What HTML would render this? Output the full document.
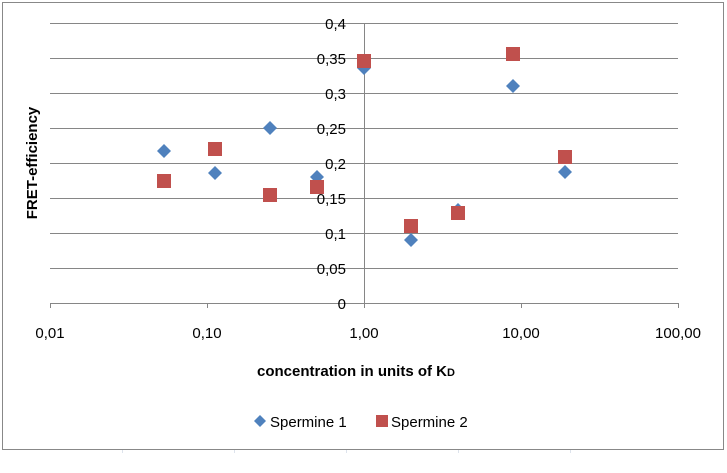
<!DOCTYPE html>
<html><head><style>body{margin:0;background:#fff}</style></head><body>
<svg width="727" height="468" xmlns="http://www.w3.org/2000/svg" font-family="Liberation Sans, sans-serif">
<rect width="727" height="468" fill="#fff"/>
<g stroke="#dde3ec" stroke-width="1">
<line x1="122.5" y1="450" x2="122.5" y2="453"/><line x1="234.5" y1="450" x2="234.5" y2="453"/><line x1="346.5" y1="450" x2="346.5" y2="453"/><line x1="458.5" y1="450" x2="458.5" y2="453"/><line x1="570.5" y1="450" x2="570.5" y2="453"/>
</g>
<rect x="2.5" y="2.5" width="721" height="447" fill="#fff" stroke="#888"/>
<g stroke="#868686" stroke-width="1">
<line x1="50" y1="23.5" x2="678" y2="23.5"/><line x1="50" y1="58.5" x2="678" y2="58.5"/><line x1="50" y1="93.5" x2="678" y2="93.5"/><line x1="50" y1="128.5" x2="678" y2="128.5"/><line x1="50" y1="163.5" x2="678" y2="163.5"/><line x1="50" y1="198.5" x2="678" y2="198.5"/><line x1="50" y1="233.5" x2="678" y2="233.5"/><line x1="50" y1="268.5" x2="678" y2="268.5"/><line x1="50" y1="303.5" x2="678" y2="303.5"/>
<line x1="364.5" y1="23" x2="364.5" y2="308"/>
<line x1="50.5" y1="303" x2="50.5" y2="308"/><line x1="207.5" y1="303" x2="207.5" y2="308"/><line x1="521.5" y1="303" x2="521.5" y2="308"/><line x1="678.5" y1="303" x2="678.5" y2="308"/>
</g>
<g font-size="15" fill="#000" text-anchor="end">
<text x="346" y="29">0,4</text><text x="346" y="64">0,35</text><text x="346" y="99">0,3</text><text x="346" y="134">0,25</text><text x="346" y="169">0,2</text><text x="346" y="204">0,15</text><text x="346" y="239">0,1</text><text x="346" y="274">0,05</text><text x="346" y="309">0</text>
</g>
<g font-size="15" fill="#000" text-anchor="middle">
<text x="50" y="338">0,01</text><text x="207" y="338">0,10</text><text x="364" y="338">1,00</text><text x="521" y="338">10,00</text><text x="678" y="338">100,00</text>
</g>
<text x="0" y="0" transform="translate(37,163) rotate(-90)" font-size="15" font-weight="bold" text-anchor="middle">FRET-efficiency</text>
<text x="257" y="376" font-size="15" font-weight="bold">concentration in units of K<tspan font-size="11">D</tspan></text>
<g fill="#4f81bd">
<path d="M164 144l7 7-7 7-7-7z"/><path d="M215 166l7 7-7 7-7-7z"/><path d="M270 121l7 7-7 7-7-7z"/><path d="M317 170l7 7-7 7-7-7z"/><path d="M364 61l7 7-7 7-7-7z"/><path d="M411 233l7 7-7 7-7-7z"/><path d="M458 203l7 7-7 7-7-7z"/><path d="M513 79l7 7-7 7-7-7z"/><path d="M565 165l7 7-7 7-7-7z"/>
<path d="M260 415l6 6-6 6-6-6z"/>
</g>
<g fill="#c0504d">
<rect x="157" y="174" width="14" height="14"/><rect x="208" y="142" width="14" height="14"/><rect x="263" y="188" width="14" height="14"/><rect x="310" y="180" width="14" height="14"/><rect x="357" y="54" width="14" height="14"/><rect x="404" y="219" width="14" height="14"/><rect x="451" y="206" width="14" height="14"/><rect x="506" y="47" width="14" height="14"/><rect x="558" y="150" width="14" height="14"/>
<rect x="376" y="415" width="12" height="12"/>
</g>
<g font-size="15" fill="#000"><text x="270" y="427">Spermine 1</text><text x="391" y="427">Spermine 2</text></g>
</svg>
</body></html>
